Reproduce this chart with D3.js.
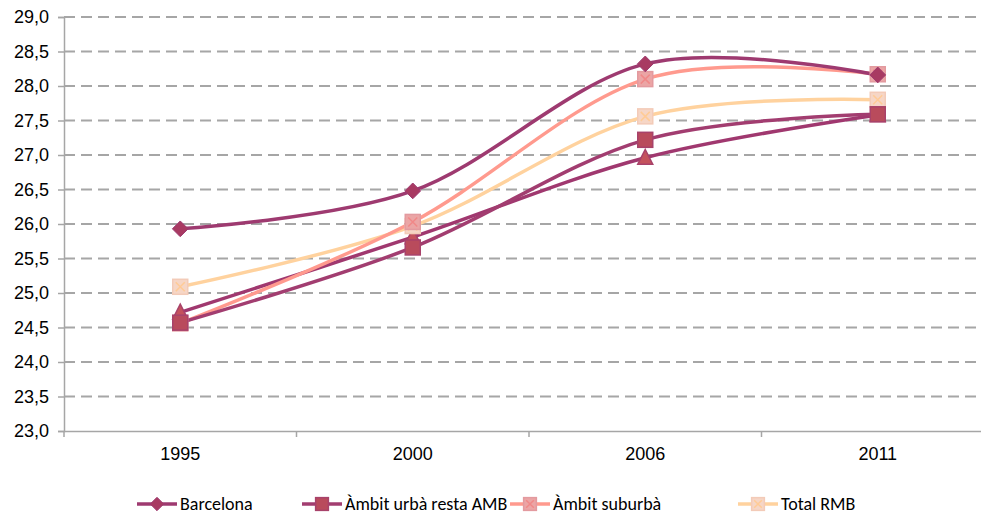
<!DOCTYPE html>
<html><head><meta charset="utf-8">
<script src="https://cdn.jsdelivr.net/npm/d3@7"></script>
<style>
html,body{margin:0;padding:0;background:#fff;}
svg{display:block;font-family:Carlito,Calibri,"Liberation Sans Narrow","Open Sans",sans-serif;}
</style></head>
<body><svg id="c" width="981" height="515"></svg>
<script>
const categories = ["1995","2000","2006","2011"];
const yTicks = [23.0,23.5,24.0,24.5,25.0,25.5,26.0,26.5,27.0,27.5,28.0,28.5,29.0];
const barcelona = [25.93, 26.48, 28.32, 28.16];
const ambitUrba = [24.57, 25.66, 27.22, 27.59];
const ambitTriangle = [24.72, 25.81, 26.96, 27.58];
const ambitSuburba = [24.56, 26.03, 28.10, 28.17];
const totalRMB = [25.09, 25.97, 27.56, 27.80];

const series = [
  {name:"Àmbit urbà resta AMB (triangle)", values:ambitTriangle, line:"#A0386F", fill:"#C4525C", stroke:"#A8426A", shape:"triangle", legend:false},
  {name:"Total RMB", values:totalRMB, line:"#FFD29E", fill:"#F6D6C6", stroke:"#F3CBB8", shape:"squarex", cross:"#FFCB96", legend:true},
  {name:"Àmbit suburbà", values:ambitSuburba, line:"#FF9A8E", fill:"#EBA5A5", stroke:"#E39A9F", shape:"squarex", cross:"#F08888", legend:true},
  {name:"Àmbit urbà resta AMB", values:ambitUrba, line:"#A23D70", fill:"#B94B5C", stroke:"#A8426A", shape:"square", legend:true},
  {name:"Barcelona", values:barcelona, line:"#9E3A70", fill:"#A83A62", stroke:"#9E3A70", shape:"diamond", legend:true}
];
const legendOrder = ["Barcelona","Àmbit urbà resta AMB","Àmbit suburbà","Total RMB"];

const svg = d3.select("#c");
const mLeft = 64, mRight = 994, mTop = 17, mBottom = 431;
const x = d3.scaleBand().domain(categories).range([mLeft,mRight]).padding(0);
const y = d3.scaleLinear().domain([23,29]).range([mBottom,mTop]);
const cx = d => x(d) + x.bandwidth()/2;
const FS = 18;

svg.append("g").selectAll("line").data(yTicks.filter(t=>t>23)).join("line")
  .attr("x1",mLeft).attr("x2",mRight)
  .attr("y1",d=>y(d)).attr("y2",d=>y(d))
  .attr("stroke","#A6A6A6").attr("stroke-width",2).attr("stroke-dasharray","11,6");

const yAxis = d3.axisLeft(y).tickValues(yTicks).tickSize(6).tickPadding(9)
  .tickFormat(d=>d3.format(".1f")(d).replace(".",","));
const gy = svg.append("g").attr("transform",`translate(${mLeft},0)`).call(yAxis);
gy.select(".domain").attr("stroke","#A6A6A6").attr("stroke-width",1.5);
gy.selectAll(".tick line").attr("stroke","#A6A6A6").attr("stroke-width",1.5);
gy.selectAll(".tick text").attr("fill","#000").attr("font-size",FS).attr("font-family","inherit");

const xAxis = d3.axisBottom(x).tickSize(0).tickPadding(16);
const gx = svg.append("g").attr("transform",`translate(0,${mBottom})`).call(xAxis);
gx.select(".domain").attr("stroke","#A6A6A6").attr("stroke-width",1.5);
gx.selectAll(".tick text").attr("fill","#000").attr("font-size",FS).attr("font-family","inherit");
svg.append("g").selectAll("line").data(categories).join("line")
  .attr("x1",d=>x(d)).attr("x2",d=>x(d))
  .attr("y1",mBottom).attr("y2",mBottom+6)
  .attr("stroke","#A6A6A6").attr("stroke-width",1.5);

const line = d3.line().x((d,i)=>cx(categories[i])).y(d=>y(d)).curve(d3.curveCardinal.tension(0));

function marker(g, s, px, py, scale){
  const r = 7.5*scale;
  if(s.shape==="diamond"){
    const d = r*1.05;
    g.append("path").attr("d",`M${px},${py-d}L${px+d},${py}L${px},${py+d}L${px-d},${py}Z`)
      .attr("fill",s.fill).attr("stroke",s.stroke).attr("stroke-width",1);
  } else if(s.shape==="square"){
    g.append("rect").attr("x",px-r).attr("y",py-r).attr("width",2*r).attr("height",2*r)
      .attr("fill",s.fill).attr("stroke",s.stroke).attr("stroke-width",1.5);
  } else if(s.shape==="triangle"){
    const h=r*1.1;
    g.append("path").attr("d",`M${px},${py-h}L${px+r},${py+h*0.8}L${px-r},${py+h*0.8}Z`)
      .attr("fill",s.fill).attr("stroke",s.stroke).attr("stroke-width",1.5);
  } else {
    g.append("rect").attr("x",px-r).attr("y",py-r).attr("width",2*r).attr("height",2*r)
      .attr("fill",s.fill).attr("stroke",s.stroke).attr("stroke-width",1.5);
    const c=r*0.6;
    g.append("path").attr("d",`M${px-c},${py-c}L${px+c},${py+c}M${px+c},${py-c}L${px-c},${py+c}`)
      .attr("stroke",s.cross).attr("stroke-width",1.5).attr("fill","none");
  }
}

const plot = svg.append("g");
series.forEach(s=>{
  plot.append("path").datum(s.values).attr("d",line)
    .attr("fill","none").attr("stroke",s.line).attr("stroke-width",3.5);
});
series.forEach(s=>{
  const g = plot.append("g");
  s.values.forEach((v,i)=>marker(g,s,cx(categories[i]),y(v),1));
});

const legX = [137, 302, 510, 738];
const ly = 504;
legendOrder.forEach((n,i)=>{
  const s = series.find(d=>d.name===n);
  const g = svg.append("g");
  g.append("line").attr("x1",legX[i]).attr("x2",legX[i]+40).attr("y1",ly).attr("y2",ly)
    .attr("stroke",s.line).attr("stroke-width",3.5);
  marker(g,s,legX[i]+20,ly,0.85);
  g.append("text").attr("x",legX[i]+43).attr("y",ly).attr("dy","0.33em")
    .attr("font-size",FS).attr("fill","#000").text(n);
});
</script></body></html>
